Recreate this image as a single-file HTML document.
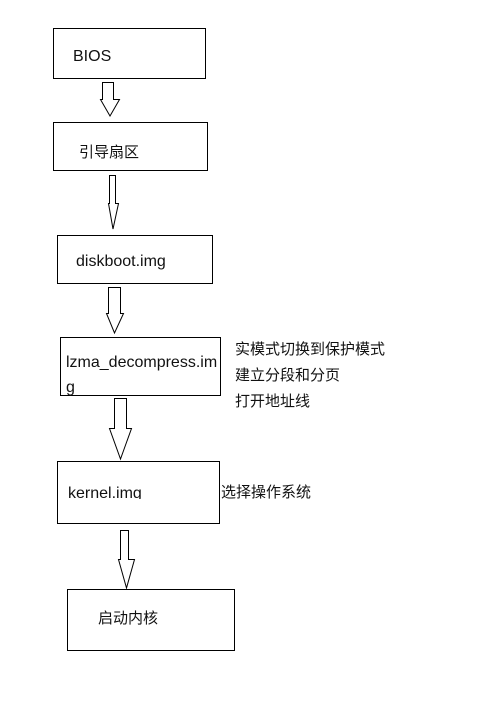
<!DOCTYPE html>
<html><head><meta charset="utf-8"><style>
html,body{margin:0;padding:0;background:#fff;width:504px;height:709px;overflow:hidden}
svg text{font-family:"Liberation Sans","Noto Sans CJK SC",sans-serif;font-size:15px;fill:#111}
svg text.l{font-size:16px}
</style></head><body>
<svg width="504" height="709" viewBox="0 0 504 709" xmlns="http://www.w3.org/2000/svg">
<g fill="#fff" stroke="#000" stroke-width="1">
<rect x="53.5" y="28.5" width="152" height="50"/>
<rect x="53.5" y="122.5" width="154" height="48"/>
<rect x="57.5" y="235.5" width="155" height="48"/>
<rect x="60.5" y="337.5" width="160" height="58"/>
<rect x="57.5" y="461.5" width="162" height="62"/>
<rect x="67.5" y="589.5" width="167" height="61"/>
<polygon points="102.5,82.5 113.5,82.5 113.5,99.5 119.5,99.5 110,116 100.5,99.5 102.5,99.5"/>
<polygon points="109.5,175.5 115.5,175.5 115.5,203.5 118.5,203.5 113,229 108.5,203.5 109.5,203.5"/>
<polygon points="108.5,287.5 120.5,287.5 120.5,313.5 123.5,313.5 114.5,333 106.5,313.5 108.5,313.5"/>
<polygon points="114.5,398.5 126.5,398.5 126.5,428.5 131.5,428.5 120.5,459 109.5,428.5 114.5,428.5"/>
<polygon points="120.5,530.5 128.5,530.5 128.5,559.5 134.5,559.5 126.5,588 118.5,559.5 120.5,559.5"/>
</g>
<text class="l" x="73" y="61">BIOS</text>
<text x="79" y="157">引导扇区</text>
<text class="l" x="76" y="266">diskboot.img</text>
<text class="l" x="66" y="367">lzma_decompress.im</text>
<text class="l" x="66" y="392">g</text>
<svg x="0" y="470" width="504" height="29" overflow="hidden"><text class="l" x="68" y="28">kernel.img</text></svg>
<text x="98" y="623">启动内核</text>
<text x="235" y="354">实模式切换到保护模式</text>
<text x="235" y="380">建立分段和分页</text>
<text x="235" y="406">打开地址线</text>
<text x="221" y="497">选择操作系统</text>
</svg>
</body></html>
